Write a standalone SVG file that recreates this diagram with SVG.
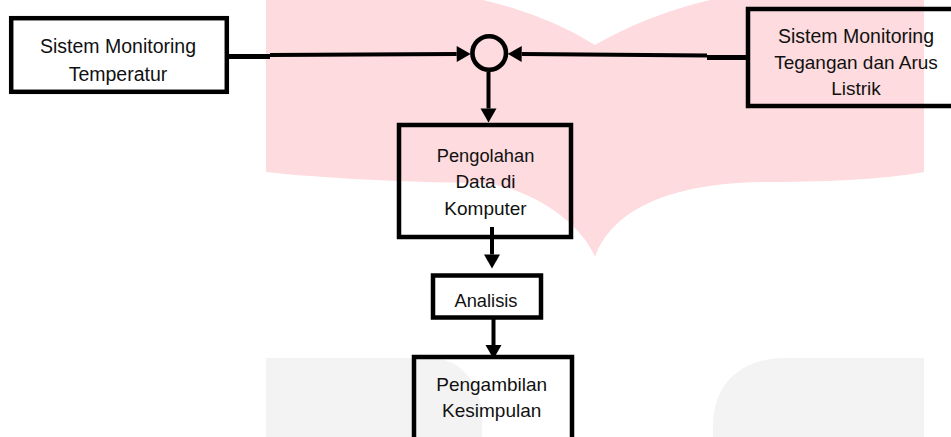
<svg xmlns="http://www.w3.org/2000/svg" width="951" height="437" viewBox="0 0 951 437">
  <defs>
    <style>
      .wm-pink { fill: #fddbde; }
      .wm-grey { fill: #f3f3f3; }
      .box { fill: none; stroke: #000; stroke-width: 4.5; }
      .hub { fill: none; stroke: #000; stroke-width: 4.6; }
      .lbl { font-family: "Liberation Sans", Arial, sans-serif; font-size: 19px; fill: #111; text-anchor: middle; }
      .lg { font-size: 19.5px; }
      .sm { font-size: 18.3px; }
      .wire { fill: none; stroke: #000; stroke-width: 4; }
      .wire-thick { fill: none; stroke: #000; stroke-width: 5; }
    </style>
    <marker id="ah" markerUnits="userSpaceOnUse" markerWidth="16" markerHeight="16" refX="0" refY="8" orient="auto" overflow="visible">
      <path d="M0,0 L14,8 L0,16 Z" fill="#000"/>
    </marker>
  </defs>

  <g id="watermark">
    <path class="wm-pink" d="M266,0 L483,0 Q547,15 595,45 Q647,15 710,0 L924,0 L924,172 C880,180 820,182 760,182 C660,184 610,215 595,257 C580,220 525,185 480,183 C400,182 320,178 266,172 Z"/>
    <path class="wm-grey" d="M266,358 L430,358 C462,358 482,385 482,420 L482,437 L266,437 Z"/>
    <path class="wm-grey" d="M924,358 L785,358 C740,358 713,385 713,425 L713,437 L924,437 Z"/>
  </g>

  <g id="connectors">
    <path class="wire-thick" d="M229,56.5 L270,56.5"/>
    <path class="wire" d="M270,55 L456.7,54" marker-end="url(#ah)"/>
    <path class="wire-thick" d="M748,57.5 L707,57.5"/>
    <path class="wire" d="M707,55.5 L521.7,54" marker-end="url(#ah)"/>
    <path class="wire" d="M488.5,72 L488.5,108.5" marker-end="url(#ah)"/>
    <path class="wire" d="M492,227 L492,254.5" marker-end="url(#ah)"/>
    <path class="wire" d="M493.5,318 L493.5,345" marker-end="url(#ah)"/>
  </g>

  <g id="node-temperatur">
    <rect class="box" x="11.2" y="18.2" width="215.6" height="73.6"/>
    <text class="lbl lg" x="118" y="53">Sistem Monitoring</text>
    <text class="lbl lg" x="118" y="80.5">Temperatur</text>
  </g>

  <g id="node-junction">
    <circle class="hub" cx="489.2" cy="53" r="16.8"/>
  </g>

  <g id="node-tegangan">
    <rect class="box" x="748" y="9" width="215" height="97"/>
    <text class="lbl lg" x="856" y="43">Sistem Monitoring</text>
    <text class="lbl" x="856" y="69">Tegangan dan Arus</text>
    <text class="lbl" x="856" y="95">Listrik</text>
  </g>

  <g id="node-pengolahan">
    <rect class="box" x="399" y="125" width="172" height="112"/>
    <text class="lbl sm" x="485.5" y="161.5">Pengolahan</text>
    <text class="lbl" x="485.5" y="188">Data di</text>
    <text class="lbl" x="485.5" y="215">Komputer</text>
  </g>

  <g id="node-analisis">
    <rect class="box" x="433" y="275.5" width="108" height="42"/>
    <text class="lbl sm" x="486" y="306.5">Analisis</text>
  </g>

  <g id="node-kesimpulan">
    <rect class="box" x="414" y="357" width="158" height="82.5"/>
    <text class="lbl" x="491.7" y="391">Pengambilan</text>
    <text class="lbl" x="491.7" y="417">Kesimpulan</text>
  </g>
</svg>
